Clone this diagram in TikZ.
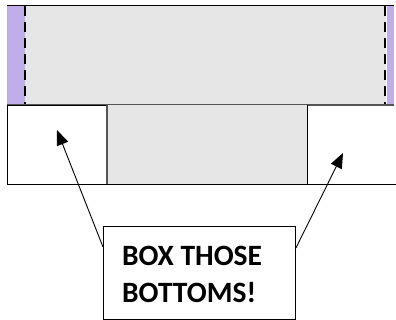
\documentclass[tikz,border=0pt]{standalone}
\usepackage{fontspec}
\setmainfont{Carlito}
\usetikzlibrary{arrows.meta}
\definecolor{panelgrey}{RGB}{230,230,230}
\definecolor{lav}{RGB}{192,174,232}
\definecolor{edgegrey}{RGB}{85,85,85}
\tikzset{
  dashmark/.style={draw=black, line width=2.6bp, dash pattern=on 10bp off 6bp},
  boxline/.style={draw=black, line width=0.9bp},
  pointer/.style={draw=black, line width=0.9bp, -{Triangle[length=15bp,width=12bp]}},
  calltext/.style={font=\fontsize{29.5bp}{37bp}\selectfont\bfseries, inner sep=0pt, anchor=base west},
}
\begin{document}
\begin{tikzpicture}[x=1bp,y=-1bp]
\useasboundingbox (0,0) rectangle (396,320);
% upper band
\fill[panelgrey] (25,5) rectangle (386,105);
\fill[lav] (7,5) rectangle (25,105);
\fill[lav] (387,5) rectangle (394,105);
\draw[boxline] (7,5) -- (394,5);
\draw[draw=edgegrey, line width=1.2bp] (7,105) -- (394,105);
\draw[dashmark] (25,6) -- (25,104);
\draw[dashmark] (385,6) -- (385,104);
% lower band
\fill[panelgrey] (107,105) rectangle (307,184);
\node[draw=black, line width=0.9bp, minimum width=100bp, minimum height=79bp, inner sep=0pt, anchor=north west] (leftbox) at (7,105) {};
\draw[draw=edgegrey, line width=1.2bp] (107,105) -- (107,184);
\draw[boxline] (307,105) -- (307,184);
\draw[boxline] (7,184) -- (396,184);
% callout
\node[draw=black, line width=0.9bp, fill=white, minimum width=192bp, minimum height=93bp, inner sep=0pt, anchor=north west] (callout) at (103,226) {};
\node[calltext] (line1) at (122,265) {BOX THOSE};
\node[calltext] (line2) at (122,302) {BOTTOMS!};
% arrows
\coordinate (lefttip) at (57,130);
\coordinate (righttip) at (343,153);
\draw[pointer] ([yshift=-21bp]callout.north west) -- (lefttip);
\draw[pointer] ([yshift=-22bp]callout.north east) -- (righttip);
\end{tikzpicture}
\end{document}
